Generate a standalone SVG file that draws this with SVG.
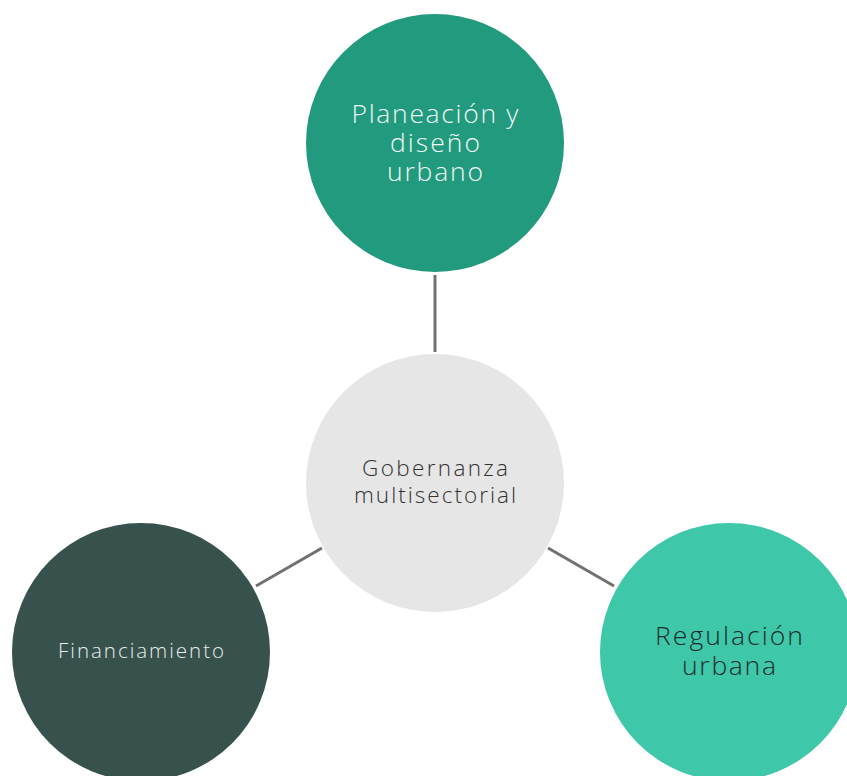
<svg xmlns="http://www.w3.org/2000/svg" width="847" height="776" viewBox="0 0 847 776">
<style>
text{font-family:"Open Sans","Noto Sans","Liberation Sans",sans-serif;font-weight:300;text-anchor:middle}
.c{stroke:#747070;stroke-width:3;fill:none}
</style>
<rect width="847" height="776" fill="#fff"/>
<g id="connectors">
<line class="c" x1="435" y1="275" x2="435" y2="352"/>
<line class="c" x1="256" y1="586" x2="322" y2="548"/>
<line class="c" x1="548" y1="548" x2="614" y2="586"/>
</g>
<g id="planeacion">
<circle cx="435" cy="143" r="129" fill="#229a7e"/>
<text fill="#eef7f4" font-size="26.5"><tspan x="435" y="123" textLength="167" lengthAdjust="spacing">Planeación y</tspan><tspan x="435" y="152" textLength="90" lengthAdjust="spacing">diseño</tspan><tspan x="435" y="181" textLength="96" lengthAdjust="spacing">urbano</tspan></text>
</g>
<g id="gobernanza">
<circle cx="435" cy="483" r="129" fill="#e6e6e6"/>
<text fill="#333" font-size="22.5"><tspan x="435" y="476" textLength="146" lengthAdjust="spacing">Gobernanza</tspan><tspan x="435" y="503" textLength="162" lengthAdjust="spacing">multisectorial</tspan></text>
</g>
<g id="financiamiento">
<circle cx="141" cy="652" r="129" fill="#37514c"/>
<text fill="#e6ecea" font-size="20.5"><tspan x="141" y="658" textLength="166" lengthAdjust="spacing">Financiamiento</tspan></text>
</g>
<g id="regulacion">
<circle cx="729" cy="652" r="129" fill="#3ec7a8"/>
<text fill="#1a2e2a" font-size="26.5"><tspan x="729" y="645" textLength="148" lengthAdjust="spacing">Regulación</tspan><tspan x="729" y="675" textLength="94" lengthAdjust="spacing">urbana</tspan></text>
</g>
</svg>
